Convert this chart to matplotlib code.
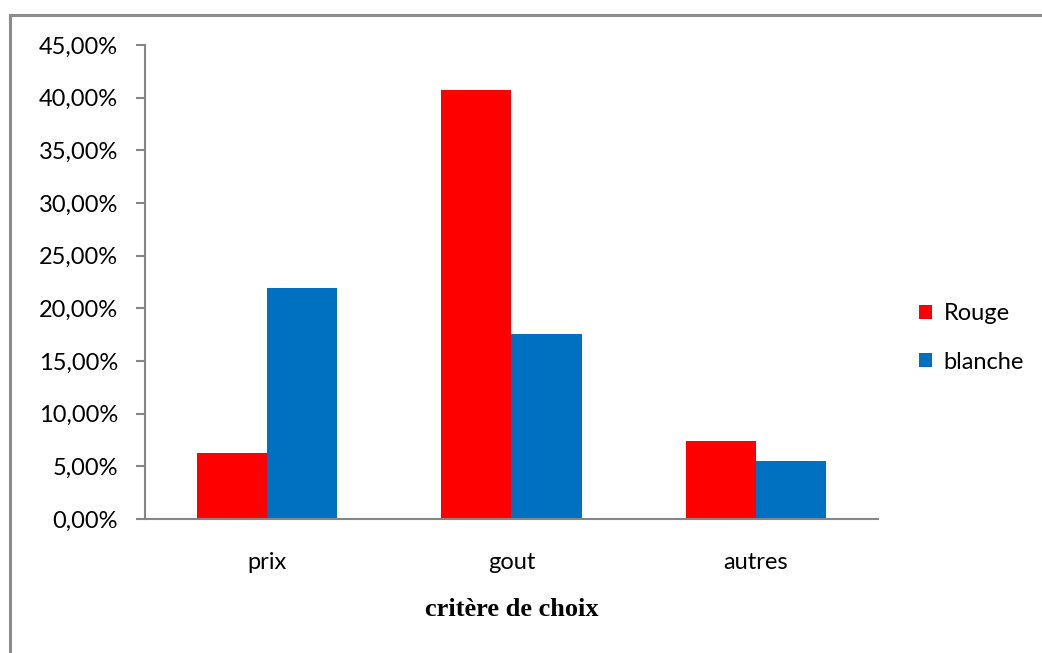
import matplotlib
matplotlib.use("Agg")
import matplotlib.pyplot as plt
from matplotlib.ticker import FuncFormatter, MultipleLocator
from matplotlib.lines import Line2D
import numpy as np

categories = ["prix", "gout", "autres"]
rouge = [6.3, 40.75, 7.4]
blanche = [21.95, 17.6, 5.55]
series_names = ["Rouge", "blanche"]
colors = ["#FF0000", "#0070C0"]

plt.rcParams['font.family'] = ['Lato', 'DejaVu Sans']

W, H = 1042, 653
fig = plt.figure(figsize=(W/100, H/100), dpi=100)

# outer border (top and left edges visible)
border = "#8C8C8C"
fig.add_artist(Line2D([10/W, 1.0], [1 - 15/H, 1 - 15/H], transform=fig.transFigure,
                      color=border, linewidth=2.2))
fig.add_artist(Line2D([10/W, 10/W], [0.0, 1 - 15/H], transform=fig.transFigure,
                      color=border, linewidth=2.2))

ax = fig.add_axes([145/W, (H-519)/H, (878-145)/W, (519-45)/H])
x = np.arange(len(categories))
bw = 0.287
ax.bar(x - bw/2, rouge, bw, color=colors[0], label=series_names[0])
ax.bar(x + bw/2, blanche, bw, color=colors[1], label=series_names[1])

ax.set_xlim(-0.5, 2.5)
ax.set_ylim(0, 45)
ax.yaxis.set_major_locator(MultipleLocator(5))
ax.yaxis.set_major_formatter(FuncFormatter(lambda v, p: f"{v:.2f}".replace(".", ",") + "%"))
ax.set_xticks(x)
ax.set_xticklabels(categories)

for s in ["top", "right"]:
    ax.spines[s].set_visible(False)
for s in ["left", "bottom"]:
    ax.spines[s].set_color("#868686")
    ax.spines[s].set_linewidth(1.5)
ax.tick_params(axis="y", length=6.5, width=1.5, color="#868686", labelsize=17, pad=13)
ax.tick_params(axis="x", length=0, labelsize=17, pad=24)

ax.set_xlabel("critère de choix", family=["Liberation Serif"], fontweight="bold",
              fontsize=19, labelpad=18)

ax.legend(loc="center left", bbox_to_anchor=(919/W, (H-338)/H), bbox_transform=fig.transFigure,
          frameon=False, fontsize=17, handlelength=0.55, handleheight=0.55,
          handletextpad=0.5, labelspacing=1.15, borderaxespad=0, borderpad=0)

fig.savefig("out.png", dpi=100)
